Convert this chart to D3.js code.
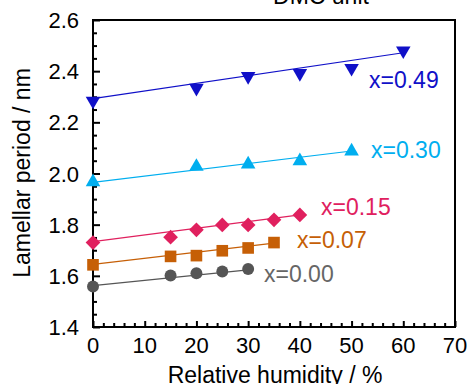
<!DOCTYPE html>
<html><head><meta charset="utf-8">
<script src="https://cdn.jsdelivr.net/npm/d3@7"></script>
<style>body{margin:0;background:#fff}svg{display:block}text{font-family:"Liberation Sans",Arial,sans-serif}</style>
</head><body><svg id="c" width="471" height="384"></svg>
<script>
const seriesNames = ["x=0.49","x=0.30","x=0.15","x=0.07","x=0.00"];
const rh049 = [0,20,30,40,50,60];
const val049 = [2.284,2.334,2.380,2.392,2.412,2.480];
const rh030 = [0,20,30,40,50];
const val030 = [1.967,2.027,2.036,2.049,2.087];
const rh015 = [0,15,20,25,30,35,40];
const val015 = [1.730,1.751,1.780,1.799,1.799,1.819,1.838];
const rh007 = [0,15,20,25,30,35];
const val007 = [1.643,1.676,1.679,1.698,1.709,1.730];
const rh000 = [0,15,20,25,30];
const val000 = [1.558,1.601,1.610,1.617,1.627];
const fitStart = [2.293,1.965,1.734,1.645,1.562];
const fitEnd = [2.472,2.088,1.838,1.728,1.623];
const xTicks = [0,10,20,30,40,50,60,70];
const yTicks = [1.4,1.6,1.8,2.0,2.2,2.4,2.6];
const colors = ["#1010c8","#00aeef","#e0205e","#c65f06","#555555"];
const labelColors = ["#1010c8","#00aeef","#e0205e","#c65f06","#666666"];
const symbols = ["triDown","triUp","diamond","square","circle"];
const labelPos = [[369,88],[371,158],[321,215],[297,248],[264,282]];

const svg = d3.select("#c");
const x = d3.scaleLinear().domain([0,70]).range([93,455]);
const y = d3.scaleLinear().domain([1.4,2.6]).range([327,20]);

const rhs = [rh049,rh030,rh015,rh007,rh000];
const vals = [val049,val030,val015,val007,val000];

// frame
svg.append("rect").attr("x",x(0)).attr("y",y(2.6)).attr("width",x(70)-x(0)).attr("height",y(1.4)-y(2.6))
  .attr("fill","none").attr("stroke","#000").attr("stroke-width",2);

// y axis
const yAx = svg.append("g").attr("transform",`translate(${x(0)},0)`)
  .call(d3.axisRight(y).tickValues(d3.range(1.4,2.6001,0.05)).tickSize(4).tickFormat(""));
yAx.select(".domain").remove();
yAx.selectAll(".tick line").attr("stroke","#000").attr("stroke-width",2)
  .attr("x2",(d)=> Math.abs(Math.round(d*100)%20)===0 ? 7 : 4);
svg.append("g").selectAll("text").data(yTicks).join("text")
  .attr("x",79).attr("y",d=>y(d)+8).attr("text-anchor","end").attr("font-size",22).text(d=>d.toFixed(1));

// x axis
const xAx = svg.append("g").attr("transform",`translate(0,${y(1.4)})`)
  .call(d3.axisTop(x).tickValues(d3.range(0,71,2)).tickSize(4).tickFormat(""));
xAx.select(".domain").remove();
xAx.selectAll(".tick line").attr("stroke","#000").attr("stroke-width",2)
  .attr("y2",d=> d%10===0 ? -6 : -4);
svg.append("g").selectAll("text").data(xTicks).join("text")
  .attr("x",d=>x(d)).attr("y",353).attr("text-anchor","middle").attr("font-size",22).text(d=>d);

// axis titles
svg.append("text").attr("x",275).attr("y",383).attr("text-anchor","middle").attr("font-size",23).text("Relative humidity / %");
svg.append("text").attr("transform","translate(30,173) rotate(-90)").attr("text-anchor","middle").attr("font-size",23).text("Lamellar period / nm");
svg.append("text").attr("x",321).attr("y",4).attr("text-anchor","middle").attr("font-size",23).text("DMC unit");

const symMap = {
  triDown: d3.symbol().type(d3.symbolTriangle).size(92),
  triUp: d3.symbol().type(d3.symbolTriangle).size(92),
  diamond: d3.symbol().type(d3.symbolSquare).size(108),
  square: d3.symbol().type(d3.symbolSquare).size(135),
  circle: d3.symbol().type(d3.symbolCircle).size(112)
};

seriesNames.forEach((name,i)=>{
  const g = svg.append("g");
  const r = rhs[i], v = vals[i];
  g.append("line").attr("x1",x(0)).attr("y1",y(fitStart[i])).attr("x2",x(r[r.length-1])).attr("y2",y(fitEnd[i]))
    .attr("stroke",colors[i]).attr("stroke-width",1.2);
  g.selectAll("path").data(r.map((d,j)=>[d,v[j]])).join("path")
    .attr("d",symMap[symbols[i]])
    .attr("transform",d=>{
      let t=`translate(${x(d[0])},${y(d[1])})`;
      if(symbols[i]==="triDown") t+=" rotate(180)";
      if(symbols[i]==="diamond") t+=" rotate(45)";
      return t;
    })
    .attr("fill",colors[i]);
  g.append("text").attr("x",labelPos[i][0]).attr("y",labelPos[i][1]).attr("font-size",23)
    .attr("fill",labelColors[i]).text(name);
});
</script></body></html>
